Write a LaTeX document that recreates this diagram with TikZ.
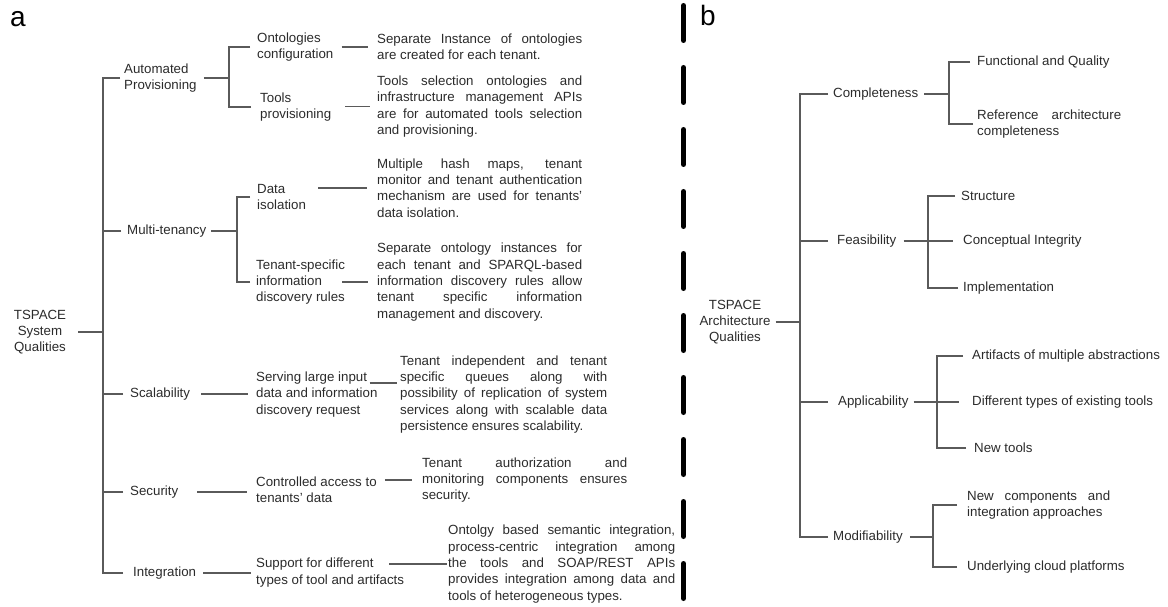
\documentclass[tikz,border=0pt]{standalone}
\usepackage{fontspec}
\setmainfont{Liberation Sans}
\usetikzlibrary{calc}
\definecolor{txtc}{HTML}{2B2B2B}
\definecolor{linec}{HTML}{5A5A5A}
% a justified line of fixed width
\newcommand{\jl}[2][205pt]{\makebox[#1][s]{#2}}
\begin{document}
\begin{tikzpicture}[x=1pt,y=-1pt,
  txt/.style={inner sep=0pt, anchor=west, align=left, text=txtc,
    font=\fontsize{13.3}{16.3}\selectfont},
  root/.style={inner sep=0pt, align=center, text=txtc,
    font=\fontsize{13.3}{16.3}\selectfont},
  panel/.style={inner sep=0pt, text=black, font=\fontsize{28}{30}\selectfont},
  link/.style={draw=linec, line width=1.2pt},
  divider/.style={draw=black, line width=5pt, dash pattern=on 35pt off 27pt, line cap=round}]
\useasboundingbox (0,0) rectangle (1168,607);

% panel letters and divider
\node[panel] (la) at (18,19) {a};
\node[panel] (lb) at (708,15) {b};
\coordinate (dtop) at (683.5,5.5);
\coordinate (dbot) at (683.5,605);
\draw[divider] (dtop) -- (dbot);

% ---------------- panel a ----------------
\node[root] (ra) at (40,332) {TSPACE\\System\\Qualities};
\coordinate (ta) at (103,332);
\draw[link, shorten <=12pt] (ra.east) -- (ta);

% Automated provisioning
\node[txt] (ap) at (124,78) {Automated\\Provisioning};
\draw[link, shorten <=4pt] (ap.west) -| (ta);
\coordinate (j1) at (229,78);
\draw[link, shorten <=7pt] (ap.east) -- (j1);
\node[txt] (ont) at (257,47) {Ontologies\\configuration};
\node[txt] (tp) at (260,107) {Tools\\provisioning};
\draw[link, shorten <=7pt] (ont.west) -| (j1);
\draw[link, shorten <=9pt] (tp.west) -| (j1);
\node[txt] (ontd) at (377,47) {\jl{Separate Instance of ontologies}\\are created for each tenant.};
\node[txt] (tpd) at (377,106.5) {\jl{Tools selection ontologies and}\\\jl{infrastructure management APIs}\\\jl{are for automated tools selection}\\and provisioning.};
\draw[link, shorten <=8pt, shorten >=9pt] (ont.east |- ontd.west) -- (ontd.west);
\draw[link, shorten <=14pt, shorten >=7pt] (tp.east |- tpd.west) -- (tpd.west);

% Multi-tenancy
\node[txt] (mt) at (127,231) {Multi-tenancy};
\draw[link, shorten <=6pt] (mt.west) -| (ta);
\coordinate (j2) at (237,231);
\draw[link, shorten <=5pt] (mt.east) -- (j2);
\node[txt] (di) at (257,197) {Data\\isolation};
\node[txt] (ts) at (256,282) {Tenant-specific\\information\\discovery rules};
\draw[link, shorten <=7pt] (di.west) -| (j2);
\draw[link, shorten <=6pt] (ts.west) -| (j2);
\node[txt] (did) at (377,188) {\jl{Multiple hash maps, tenant}\\\jl{monitor and tenant authentication}\\\jl{mechanism are used for tenants'}\\data isolation.};
\node[txt] (tsd) at (377,282) {\jl{Separate ontology instances for}\\\jl{each tenant and SPARQL-based}\\\jl{information discovery rules allow}\\\jl{tenant specific information}\\management and discovery.};
\draw[link, shorten <=12pt, shorten >=10pt] (di.east |- did.west) -- (did.west);
\draw[link, shorten <=-3pt, shorten >=9pt] (ts.east |- tsd.west) -- (tsd.west);

% Scalability
\node[txt] (sc) at (130,394) {Scalability};
\draw[link, shorten <=7pt] (sc.west) -| (ta);
\node[txt] (sv) at (256,394.5) {Serving large input\\data and information\\discovery request};
\draw[link, shorten <=11pt, shorten >=8pt] (sc.east) -- (sc.east -| sv.west);
\node[txt] (svd) at (400,394.5) {\jl[207pt]{Tenant independent and tenant}\\\jl[207pt]{specific queues along with}\\\jl[207pt]{possibility of replication of system}\\\jl[207pt]{services along with scalable data}\\persistence ensures scalability.};
\draw[link] ($(sv.east)+(-8,-11.5)$) -- ($(svd.west)+(-3,-11.5)$);

% Security
\node[txt] (se) at (130,492) {Security};
\draw[link, shorten <=7pt] (se.west) -| (ta);
\node[txt] (ca) at (256,490) {Controlled access to\\tenants' data};
\draw[link, shorten <=19pt, shorten >=9pt] (se.east) -- (se.east -| ca.west);
\node[txt] (cad) at (422,480) {\jl{Tenant authorization and}\\\jl{monitoring components ensures}\\security.};
\draw[link, shorten <=8pt, shorten >=10pt] (ca.east |- cad.west) -- (cad.west);

% Integration
\node[txt] (intg) at (133,573) {Integration};
\draw[link, shorten <=10pt] (intg.west) -| (ta);
\node[txt] (sp) at (256,572.5) {Support for different\\types of tool and artifacts};
\draw[link, shorten <=7pt, shorten >=5pt] (intg.east) -- (intg.east -| sp.west);
\node[txt] (spd) at (448,564) {\jl[227pt]{Ontolgy based semantic integration,}\\\jl[227pt]{process-centric integration among}\\\jl[227pt]{the tools and SOAP/REST APIs}\\\jl[227pt]{provides integration among data and}\\tools of heterogeneous types.};
\draw[link, shorten <=-15pt, shorten >=1pt] (sp.east |- spd.west) -- (spd.west);

% ---------------- panel b ----------------
\node[root] (rb) at (735,322) {TSPACE\\Architecture\\Qualities};
\coordinate (tb) at (800,322);
\draw[link, shorten <=5pt] (rb.east) -- (rb.east -| tb);

% Completeness
\node[txt] (cp) at (833,94) {Completeness};
\draw[link, shorten <=5pt] (cp.west) -| (tb);
\coordinate (jc) at (949,94);
\draw[link, shorten <=6pt] (cp.east) -- (jc);
\node[txt] (fq) at (977,62) {Functional and Quality};
\node[txt] (rac) at (977,124) {\jl[144pt]{Reference architecture}\\completeness};
\draw[link, shorten <=7pt] (fq.west) -| (jc);
\draw[link, shorten <=4pt] (rac.west) -| (jc);

% Feasibility
\node[txt] (fe) at (837,241) {Feasibility};
\draw[link, shorten <=9pt] (fe.west) -| (tb);
\coordinate (jf) at (928,241);
\node[txt] (ci) at (963,241) {Conceptual Integrity};
\draw[link, shorten <=7pt, shorten >=10pt] (fe.east) -- (ci.west);
\node[txt] (st) at (961,196) {Structure};
\node[txt] (im) at (963,288) {Implementation};
\draw[link, shorten <=6pt] (st.west) -| (jf);
\draw[link, shorten <=5pt] (im.west) -| (jf);

% Applicability
\node[txt] (apl) at (838,402) {Applicability};
\draw[link, shorten <=10pt] (apl.west) -| (tb);
\coordinate (ja) at (937,402);
\node[txt] (dt) at (972,402) {Different types of existing tools};
\draw[link, shorten <=5pt, shorten >=13pt] (apl.east) -- (dt.west);
\node[txt] (am) at (972,356) {Artifacts of multiple abstractions};
\node[txt] (nt) at (974,448) {New tools};
\draw[link, shorten <=9pt] (am.west) -| (ja);
\draw[link, shorten <=8pt] (nt.west) -| (ja);

% Modifiability
\node[txt] (mo) at (833,537) {Modifiability};
\draw[link, shorten <=5pt] (mo.west) -| (tb);
\coordinate (jm) at (933,537);
\draw[link, shorten <=7pt] (mo.east) -- (jm);
\node[txt] (nc) at (967,505) {\jl[143pt]{New components and}\\integration approaches};
\node[txt] (uc) at (967,567) {Underlying cloud platforms};
\draw[link, shorten <=10pt] (nc.west) -| (jm);
\draw[link, shorten <=10pt] (uc.west) -| (jm);
\end{tikzpicture}
\end{document}
